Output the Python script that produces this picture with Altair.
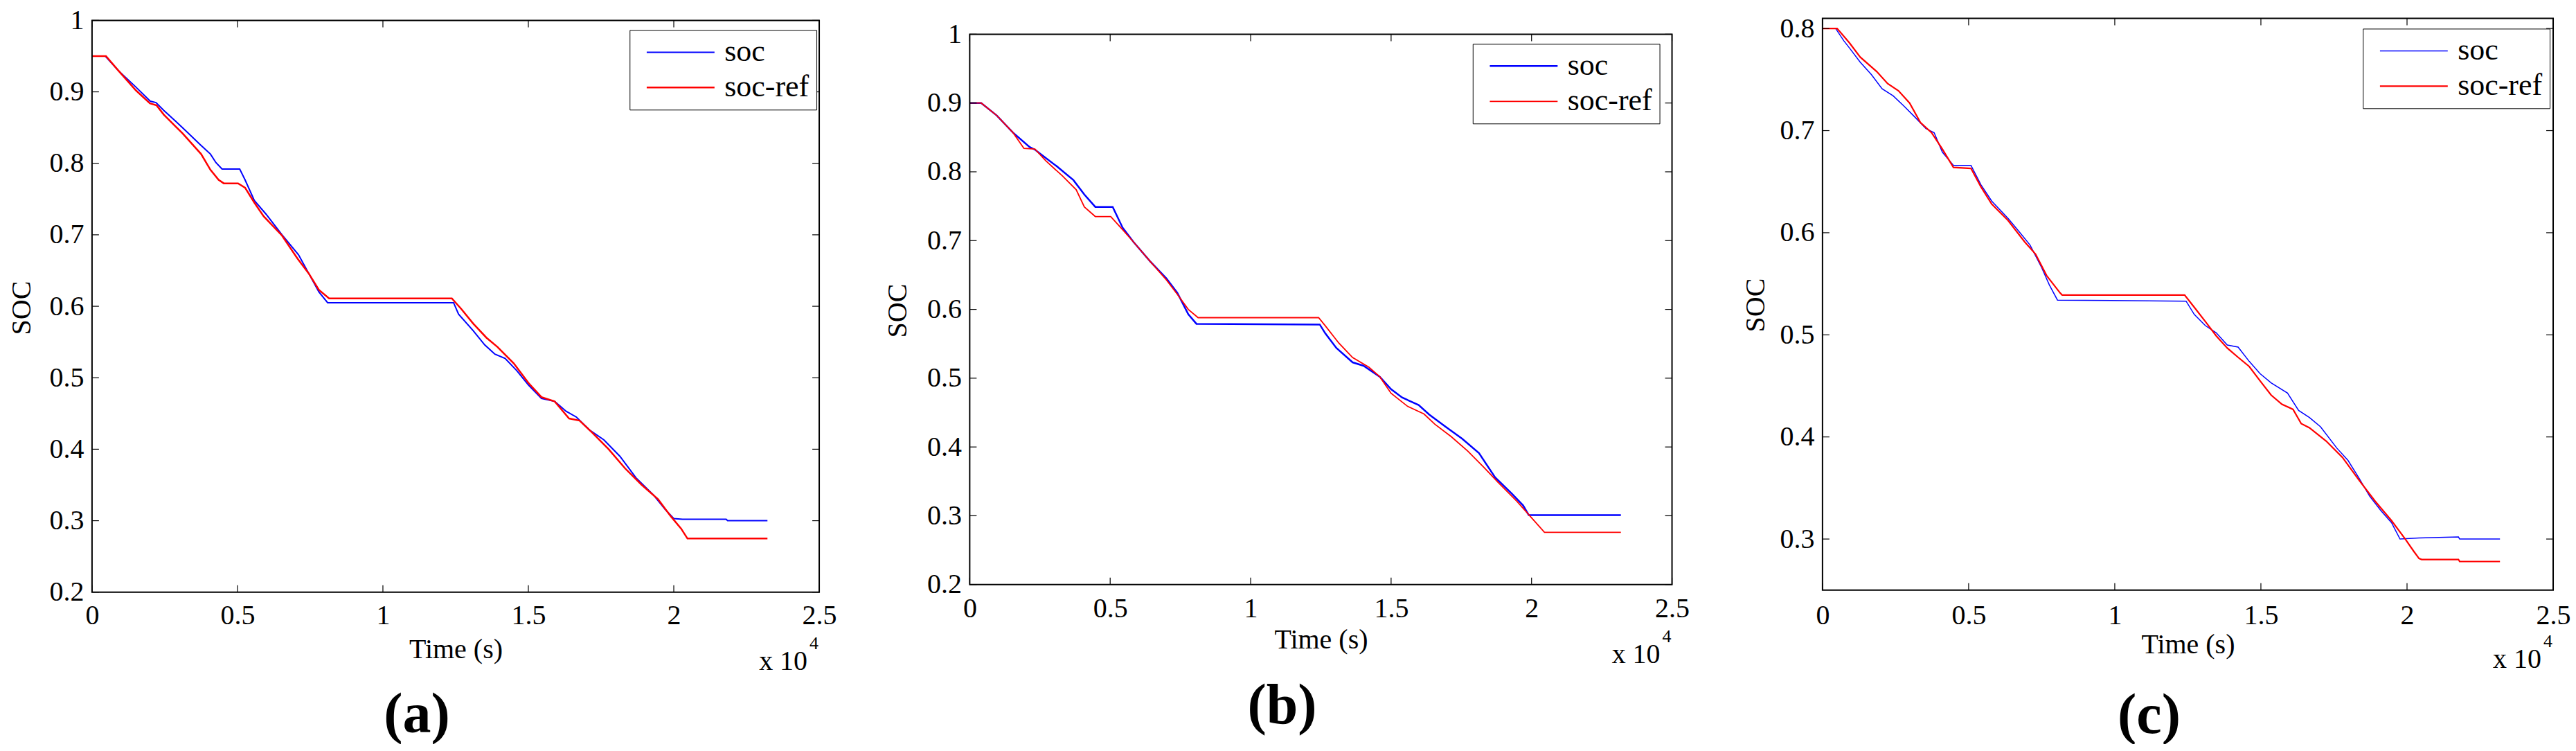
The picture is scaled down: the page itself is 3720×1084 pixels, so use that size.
import altair as alt
import pandas as pd

FONT = "Liberation Serif"
SERIES = ["soc", "soc-ref"]
COLORS = ["#0000ff", "#ff0000"]
X_TICKS = [0, 5000, 10000, 15000, 20000, 25000]
Y_TICKS_AB = [0.2, 0.3, 0.4, 0.5, 0.6, 0.7, 0.8, 0.9, 1.0]
Y_TICKS_C = [0.3, 0.4, 0.5, 0.6, 0.7, 0.8]

# ---------------- panel (a) ----------------
A_SOC_T = [0, 455, 900, 1500, 2000, 2200, 2470, 3110, 3750, 4070, 4260, 4470, 5077, 5260, 5580,
           5980, 6530, 7100, 7450, 7800, 8100, 12430, 12600, 13100, 13500, 13850, 14200, 14600,
           15000, 15450, 15900, 16300, 16650, 17100, 17600, 18150, 18700, 19300, 19700, 20000,
           20300, 21800, 21850, 23220]
A_SOC_V = [0.95, 0.95, 0.93, 0.907, 0.887, 0.885, 0.874, 0.85, 0.825, 0.813, 0.801, 0.792, 0.792,
           0.777, 0.748, 0.729, 0.70, 0.672, 0.646, 0.62, 0.605, 0.605, 0.589, 0.566, 0.546, 0.533,
           0.527, 0.51, 0.49, 0.471, 0.467, 0.453, 0.445, 0.427, 0.413, 0.39, 0.36, 0.336, 0.316,
           0.303, 0.302, 0.302, 0.300, 0.300]
A_REF_T = [0, 480, 900, 1510, 1990, 2220, 2470, 3110, 3750, 4070, 4350, 4530, 5020, 5260, 5580,
           5900, 6530, 7060, 7450, 7800, 8150, 12370, 12700, 13100, 13560, 13940, 14500, 15000,
           15450, 15900, 16400, 16760, 17200, 17760, 18330, 18900, 19460, 19900, 20250, 20470,
           23220]
A_REF_V = [0.95, 0.95, 0.93, 0.902, 0.884, 0.881, 0.868, 0.842, 0.813, 0.791, 0.777, 0.772, 0.772,
           0.766, 0.745, 0.726, 0.699, 0.667, 0.646, 0.623, 0.611, 0.611, 0.596, 0.576, 0.556,
           0.543, 0.52, 0.493, 0.473, 0.467, 0.443, 0.44, 0.423, 0.40, 0.373, 0.35, 0.33, 0.306,
           0.289, 0.275, 0.275]

# ---------------- panel (b) ----------------
B_SOC_T = [0, 410, 960, 1540, 2130, 2330, 2520, 3100, 3690, 4080, 4470, 5090, 5440, 5830, 6420,
           7000, 7390, 7780, 8070, 12460, 12660, 13050, 13630, 14020, 14600, 15000, 15390, 15980,
           16360, 16950, 17530, 18130, 18700, 19300, 19700, 19900, 23180]
B_SOC_V = [0.9, 0.9, 0.882, 0.857, 0.836, 0.832, 0.826, 0.808, 0.788, 0.767, 0.749, 0.749, 0.719,
           0.698, 0.670, 0.645, 0.624, 0.593, 0.579, 0.578, 0.565, 0.544, 0.523, 0.518, 0.502,
           0.484, 0.472, 0.461, 0.447, 0.429, 0.412, 0.391, 0.356, 0.332, 0.315, 0.301, 0.301]
B_REF_T = [0, 410, 960, 1540, 1930, 2320, 2710, 3300, 3790, 4080, 4470, 5020, 5440, 5830, 6420,
           7000, 7390, 7780, 8130, 12420, 12660, 13140, 13630, 14210, 14600, 15000, 15590, 16170,
           16560, 17140, 17730, 18310, 18800, 19480, 20000, 20460, 23180]
B_REF_V = [0.9, 0.9, 0.882, 0.857, 0.834, 0.833, 0.816, 0.794, 0.774, 0.749, 0.735, 0.735, 0.716,
           0.698, 0.670, 0.643, 0.622, 0.600, 0.588, 0.588, 0.576, 0.551, 0.530, 0.516, 0.502,
           0.478, 0.459, 0.448, 0.433, 0.415, 0.394, 0.370, 0.349, 0.321, 0.297, 0.276, 0.276]

# ---------------- panel (c) ----------------
C_SOC_T = [0, 450, 730, 920, 1290, 1670, 2040, 2420, 2790, 3170, 3540, 3820, 4100, 4480, 5080,
           5420, 5790, 6350, 6730, 7100, 7480, 7760, 8040, 12440, 12720, 13100, 13470, 13850,
           14220, 14600, 14970, 15350, 15910, 16290, 16660, 17040, 17600, 17980, 18350, 18720,
           19100, 19470, 19760, 20410, 21760, 21800, 23180]
C_SOC_V = [0.8, 0.8, 0.788, 0.781, 0.767, 0.755, 0.741, 0.734, 0.724, 0.713, 0.702, 0.698, 0.679,
           0.666, 0.666, 0.647, 0.631, 0.614, 0.601, 0.588, 0.567, 0.549, 0.534, 0.533, 0.52, 0.509,
           0.502, 0.49, 0.488, 0.474, 0.462, 0.453, 0.443, 0.426, 0.419, 0.41, 0.389, 0.377, 0.36,
           0.342, 0.328, 0.316, 0.30, 0.301, 0.302, 0.300, 0.300]
C_REF_T = [0, 500, 920, 1290, 1850, 2230, 2600, 2980, 3350, 3730, 4100, 4480, 5080, 5420, 5790,
           6350, 6920, 7290, 7670, 8130, 8200, 12390, 12720, 13100, 13470, 13850, 14220, 14600,
           14970, 15350, 15720, 16100, 16380, 16660, 17230, 17790, 18350, 18910, 19470, 19940,
           20230, 20410, 20500, 21760, 21800, 23180]
C_REF_V = [0.8, 0.8, 0.786, 0.772, 0.758, 0.746, 0.739, 0.727, 0.708, 0.698, 0.682, 0.664, 0.663,
           0.645, 0.628, 0.612, 0.591, 0.579, 0.558, 0.541, 0.539, 0.539, 0.527, 0.513, 0.499,
           0.487, 0.478, 0.469, 0.455, 0.441, 0.432, 0.427, 0.413, 0.409, 0.396, 0.38, 0.358, 0.337,
           0.318, 0.30, 0.288, 0.281, 0.280, 0.280, 0.278, 0.278]

GROUP_H = 829


def panel(cfg, soc_t, soc_v, ref_t, ref_v):
    df = pd.DataFrame({
        "t": soc_t + ref_t,
        "v": soc_v + ref_v,
        "series": ["soc"] * len(soc_t) + ["soc-ref"] * len(ref_t),
    })
    ymin, ymax = cfg["ydom"]
    xs = alt.Scale(domain=[0, 25000], nice=False, zero=False)
    ys = alt.Scale(domain=[ymin, ymax], range=cfg["yrange"], nice=False, zero=False)
    xax = alt.Axis(values=X_TICKS, labelExpr="datum.value / 10000", title="Time (s)",
                   labelPadding=cfg["xlp"], titleY=cfg["xty"], labelFlush=False,
                   labelOverlap=False)
    yax = alt.Axis(values=cfg["yticks"], format="~g", title="SOC", labelPadding=12,
                   titlePadding=cfg["ytp"], titleY=cfg["yty"], labelOverlap=False)

    def X(f):
        return alt.X(f, scale=xs, axis=xax)

    def Y(f):
        return alt.Y(f, scale=ys, axis=yax)

    legend = alt.Legend(
        title=None, orient="none", legendX=cfg["lx"], legendY=cfg["ly"], direction="vertical",
        symbolType="M-1,0H5", symbolSize=1067, symbolOffset=9, labelOffset=74,
        labelFont=FONT, labelFontSize=44, labelColor="black", labelLimit=0,
        padding=10, rowPadding=7, strokeColor="black", fillColor="white",
    )
    lines = alt.Chart(df).mark_line(strokeJoin="miter").encode(
        x=X("t:Q"), y=Y("v:Q"),
        color=alt.Color("series:N", scale=alt.Scale(domain=SERIES, range=COLORS), legend=legend),
        strokeWidth=alt.StrokeWidth("series:N", scale=alt.Scale(domain=SERIES, range=cfg["sw"]),
                                    legend=legend),
    )
    ytick_df = pd.DataFrame({"v": cfg["yticks"], "xl": 0, "xr": 25000})
    xtick_df = pd.DataFrame({"t": X_TICKS, "yb": ymin, "yt": ymax})
    tick_style = dict(color="black", strokeWidth=1.2)
    left = alt.Chart(ytick_df).mark_rule(x2Offset=10, **tick_style).encode(
        y=Y("v:Q"), x=X("xl:Q"), x2="xl:Q")
    right = alt.Chart(ytick_df).mark_rule(x2Offset=-10, **tick_style).encode(
        y=Y("v:Q"), x=X("xr:Q"), x2="xr:Q")
    bottom = alt.Chart(xtick_df).mark_rule(y2Offset=-10, **tick_style).encode(
        x=X("t:Q"), y=Y("yb:Q"), y2="yb:Q")
    top = alt.Chart(xtick_df).mark_rule(y2Offset=10, **tick_style).encode(
        x=X("t:Q"), y=Y("yt:Q"), y2="yt:Q")
    frame_df = pd.DataFrame({"x0": [0], "x1": [25000], "y0": [ymin], "y1": [ymax]})
    frame = alt.Chart(frame_df).mark_rect(fill="transparent", stroke="black", strokeWidth=2).encode(
        x=X("x0:Q"), x2="x1:Q", y=Y("y0:Q"), y2="y1:Q")
    txt_df = pd.DataFrame({"xr": [25000], "xm": [12500], "yb": [ymin]})
    base_txt = alt.Chart(txt_df)
    x10 = base_txt.mark_text(text="x 10", align="right", baseline="alphabetic", dx=-17,
                             dy=cfg["x10dy"], font=FONT, fontSize=40, color="black").encode(
        x=X("xr:Q"), y=Y("yb:Q"))
    sup = base_txt.mark_text(text="4", align="right", baseline="alphabetic", dx=-1,
                             dy=cfg["x10dy"] - 30, font=FONT, fontSize=26, color="black").encode(
        x=X("xr:Q"), y=Y("yb:Q"))
    lab = base_txt.mark_text(text=cfg["label"], align="center", baseline="alphabetic", dx=-56,
                             dy=cfg["labdy"], font=FONT, fontSize=82, fontWeight="bold",
                             color="black").encode(
        x=X("xm:Q"), y=Y("yb:Q"))
    return alt.layer(lines, left, right, bottom, top, frame, x10, sup, lab).properties(
        width=cfg["w"], height=GROUP_H)


CFG_A = dict(w=1051, ydom=[0.2, 1.0], yrange=[829, 3], yticks=Y_TICKS_AB, lx=777, ly=17,
             sw=[2, 2.5], xlp=14, xty=63, yty=418, ytp=19, x10dy=112, labdy=202, label="(a)")
CFG_B = dict(w=1015, ydom=[0.2, 1.0], yrange=[818, 23], yticks=Y_TICKS_AB, lx=727, ly=37,
             sw=[2.5, 1.8], xlp=4, xty=49, yty=422, ytp=22, x10dy=113, labdy=200, label="(b)")
CFG_C = dict(w=1056, ydom=[0.25, 0.81], yrange=[826, 0], yticks=Y_TICKS_C, lx=781, ly=15,
             sw=[1.5, 2.2], xlp=14, xty=56, yty=414, ytp=14, x10dy=112, labdy=206, label="(c)")

pa = panel(CFG_A, A_SOC_T, A_SOC_V, A_REF_T, A_REF_V)
pb = panel(CFG_B, B_SOC_T, B_SOC_V, B_REF_T, B_REF_V)
pc = panel(CFG_C, C_SOC_T, C_SOC_V, C_REF_T, C_REF_V)

chart = (
    alt.hconcat(pa, pb, pc, spacing=217.5, bounds="flush")
    .resolve_scale(color="independent", strokeWidth="independent")
    .properties(padding={"left": 4, "top": 1, "right": 0, "bottom": 0}, background="white")
    .configure_view(stroke=None)
    .configure_axis(
        labelFont=FONT, titleFont=FONT, labelFontSize=40, titleFontSize=40,
        labelColor="black", titleColor="black", titleFontWeight="normal",
        grid=False, domain=False, ticks=False, tickSize=0,
    )
)

chart.save("out.html", embed_options={"renderer": "svg", "actions": False})
